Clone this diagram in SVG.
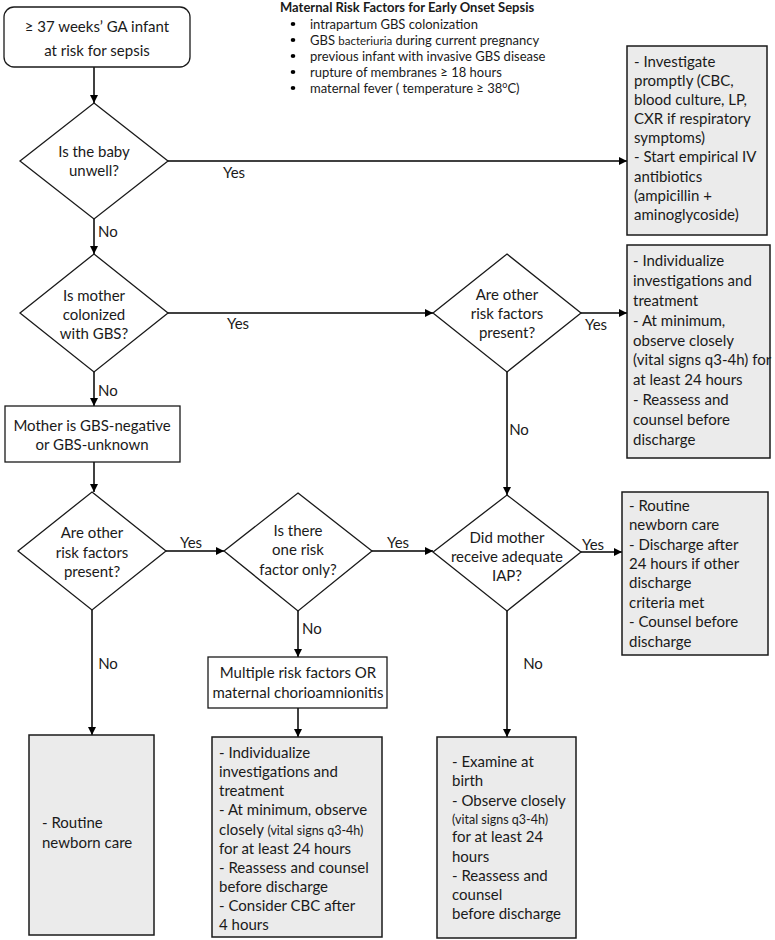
<svg xmlns="http://www.w3.org/2000/svg" width="775" height="940" viewBox="0 0 775 940">
<defs>
<marker id="arr" viewBox="0 0 10 10" refX="10" refY="5" markerWidth="8" markerHeight="8" markerUnits="userSpaceOnUse" orient="auto">
<path d="M0,0 L10,5 L0,10 z" fill="#000"/>
</marker>
<style>
text{font-family:Lato,"Liberation Sans",sans-serif;font-size:15px;fill:#1a1a1a}
.c{text-anchor:middle}
.sm{font-size:12.5px}
.lg{font-size:13px}
.b{font-weight:bold}
.n{fill:#fff;stroke:#1a1a1a;stroke-width:1.3}
.g{fill:#ebebeb;stroke:#1a1a1a;stroke-width:1.5}
.ln{fill:none;stroke:#000;stroke-width:1.5}
.a{marker-end:url(#arr)}
</style>
</defs>
<rect width="775" height="940" fill="#fff"/>

<g id="legend">
<text class="lg b" x="280" y="12" font-size="12.5">Maternal Risk Factors for Early Onset Sepsis</text>
<g fill="#000">
<ellipse cx="293" cy="24" rx="2.3" ry="2"/>
<ellipse cx="293" cy="40" rx="2.3" ry="2"/>
<ellipse cx="293" cy="56" rx="2.3" ry="2"/>
<ellipse cx="293" cy="72" rx="2.3" ry="2"/>
<ellipse cx="293" cy="88" rx="2.3" ry="2"/>
</g>
<text class="lg" x="310" y="28.5">intrapartum GBS colonization</text>
<text class="lg" x="310" y="44.5">GBS <tspan font-size="11.5">bacteriuria</tspan> during current pregnancy</text>
<text class="lg" x="310" y="60.5">previous infant with invasive GBS disease</text>
<text class="lg" x="310" y="76.5">rupture of membranes  ≥ 18 hours</text>
<text class="lg" x="310" y="92.5">maternal fever ( temperature ≥ 38<tspan font-size="9" dy="-5">o</tspan><tspan dy="5">C)</tspan></text>
</g>

<g id="connectors">
<line class="ln a" x1="94" y1="67" x2="94" y2="103"/>
<line class="ln a" x1="168" y1="161" x2="627" y2="161"/>
<line class="ln a" x1="94" y1="219" x2="94" y2="254"/>
<line class="ln a" x1="168" y1="313" x2="433" y2="313"/>
<line class="ln a" x1="581" y1="313" x2="627" y2="313"/>
<line class="ln a" x1="94" y1="372" x2="94" y2="406"/>
<line class="ln a" x1="507" y1="372" x2="507" y2="495"/>
<line class="ln a" x1="94" y1="462" x2="94" y2="492"/>
<line class="ln a" x1="166" y1="551" x2="224" y2="551"/>
<line class="ln a" x1="372" y1="551" x2="433" y2="551"/>
<line class="ln a" x1="581" y1="552" x2="622" y2="552"/>
<line class="ln a" x1="298" y1="611" x2="298" y2="657"/>
<line class="ln a" x1="298" y1="708" x2="298" y2="737"/>
<line class="ln a" x1="92" y1="610" x2="92" y2="735"/>
<line class="ln a" x1="507" y1="611" x2="507" y2="737"/>
<text class="c" x="234" y="178">Yes</text>
<text x="98" y="237">No</text>
<text class="c" x="238" y="329">Yes</text>
<text class="c" x="596" y="330">Yes</text>
<text x="98" y="396">No</text>
<text class="c" x="519" y="435">No</text>
<text class="c" x="191" y="548">Yes</text>
<text class="c" x="398" y="548">Yes</text>
<text class="c" x="593" y="550">Yes</text>
<text x="302" y="634">No</text>
<text class="c" x="108" y="669">No</text>
<text class="c" x="533" y="669">No</text>
</g>

<g id="start">
<rect class="n" x="4" y="7" width="186" height="60" rx="10"/>
<text class="c" x="97" y="32" font-size="16">≥ 37 weeks’ GA infant</text>
<text class="c" x="97" y="56" font-size="16">at risk for sepsis</text>
</g>

<g id="q-unwell">
<polygon class="n" points="94,103 168,161 94,219 20,161"/>
<text class="c" x="94" y="157">Is the baby</text>
<text class="c" x="94" y="176">unwell?</text>
</g>

<g id="investigate">
<rect class="g" x="627" y="46" width="140" height="189"/>
<text x="634" y="67">- Investigate</text>
<text x="634" y="86">promptly (CBC,</text>
<text x="634" y="105">blood culture, LP,</text>
<text x="634" y="124">CXR if respiratory</text>
<text x="634" y="143">symptoms)</text>
<text x="634" y="162">- Start empirical IV</text>
<text x="634" y="182">antibiotics</text>
<text x="634" y="201">(ampicillin +</text>
<text x="634" y="220">aminoglycoside)</text>
</g>

<g id="q-colonized">
<polygon class="n" points="94,254 168,313 94,372 20,313"/>
<text class="c" x="94" y="301">Is mother</text>
<text class="c" x="94" y="320">colonized</text>
<text class="c" x="94" y="339">with GBS?</text>
</g>

<g id="q-other-1">
<polygon class="n" points="507,254 581,313 507,372 433,313"/>
<text class="c" x="507" y="300">Are other</text>
<text class="c" x="507" y="319">risk factors</text>
<text class="c" x="507" y="338">present?</text>
</g>

<g id="individualize-1">
<rect class="g" x="627" y="245" width="143" height="213"/>
<text x="633" y="266">- Individualize</text>
<text x="633" y="286">investigations and</text>
<text x="633" y="306">treatment</text>
<text x="633" y="326">- At minimum,</text>
<text x="633" y="346">observe closely</text>
<text x="633" y="365">(vital signs q3-4h) for</text>
<text x="633" y="385">at least 24 hours</text>
<text x="633" y="405">- Reassess and</text>
<text x="633" y="425">counsel before</text>
<text x="633" y="445">discharge</text>
</g>

<g id="gbs-negative">
<rect class="n" x="5" y="406" width="175" height="56"/>
<text class="c" x="92" y="431">Mother is GBS-negative</text>
<text class="c" x="92" y="450">or GBS-unknown</text>
</g>

<g id="q-other-2">
<polygon class="n" points="92,492 166,551 92,610 18,551"/>
<text class="c" x="92" y="538">Are other</text>
<text class="c" x="92" y="558">risk factors</text>
<text class="c" x="92" y="577">present?</text>
</g>

<g id="q-one">
<polygon class="n" points="298,493 372,551 298,611 224,551"/>
<text class="c" x="298" y="536">Is there</text>
<text class="c" x="298" y="555">one risk</text>
<text class="c" x="298" y="575">factor only?</text>
</g>

<g id="q-iap">
<polygon class="n" points="507,495 581,552 507,611 433,552"/>
<text class="c" x="507" y="543">Did mother</text>
<text class="c" x="507" y="562">receive adequate</text>
<text class="c" x="507" y="581">IAP?</text>
</g>

<g id="routine-discharge">
<rect class="g" x="622" y="492" width="146" height="163"/>
<text x="629" y="511">- Routine</text>
<text x="629" y="530">newborn care</text>
<text x="629" y="550">- Discharge after</text>
<text x="629" y="569">24 hours if other</text>
<text x="629" y="588">discharge</text>
<text x="629" y="608">criteria met</text>
<text x="629" y="627">- Counsel before</text>
<text x="629" y="647">discharge</text>
</g>

<g id="multiple">
<rect class="n" x="208" y="657" width="179" height="51"/>
<text class="c" x="298" y="678">Multiple risk factors OR</text>
<text class="c" x="298" y="698">maternal chorioamnionitis</text>
</g>

<g id="routine">
<rect class="g" x="29" y="735" width="125" height="200"/>
<text x="42" y="828">- Routine</text>
<text x="42" y="848">newborn care</text>
</g>

<g id="individualize-2">
<rect class="g" x="212" y="737" width="170" height="200"/>
<text x="219" y="758">- Individualize</text>
<text x="219" y="777">investigations and</text>
<text x="219" y="796">treatment</text>
<text x="219" y="815">- At minimum, observe</text>
<text x="219" y="835">closely <tspan class="sm">(vital signs q3-4h)</tspan></text>
<text x="219" y="854">for at least 24 hours</text>
<text x="219" y="873">- Reassess and counsel</text>
<text x="219" y="892">before discharge</text>
<text x="219" y="911">- Consider CBC after</text>
<text x="219" y="930">4 hours</text>
</g>

<g id="examine">
<rect class="g" x="437" y="737" width="139" height="201"/>
<text x="452" y="767">- Examine at</text>
<text x="452" y="786">birth</text>
<text x="452" y="806">- Observe closely</text>
<text class="sm" x="452" y="824">(vital signs q3-4h)</text>
<text x="452" y="842">for at least 24</text>
<text x="452" y="862">hours</text>
<text x="452" y="881">- Reassess and</text>
<text x="452" y="900">counsel</text>
<text x="452" y="919">before discharge</text>
</g>
</svg>
